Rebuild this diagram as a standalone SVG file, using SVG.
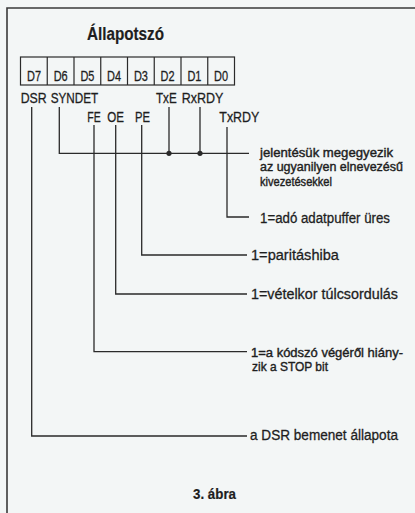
<svg xmlns="http://www.w3.org/2000/svg" width="415" height="513" viewBox="0 0 415 513">
<style>
.t{font-family:"Liberation Sans Narrow","Liberation Sans",Arial,sans-serif;font-size:15px;fill:#1e1e1e;stroke:#1e1e1e;stroke-width:0.3}
.m{font-size:12.8px;stroke-width:0.4}
.b{font-weight:bold}
.ln{fill:none;stroke:#2a2a2a;stroke-width:1.3}
.cell{fill:none;stroke:#2a2a2a;stroke-width:1.2}
.frame{fill:none;stroke:#3a3a3a;stroke-width:1.6}
</style>
<rect width="415" height="513" fill="#f3f6f6"/>
<path class="frame" d="M7,513 V8 H415"/>
<g id="title"><text class="t b" x="87" y="40" textLength="77" lengthAdjust="spacingAndGlyphs" style="font-size:19px;stroke-width:0.2">Állapotszó</text></g>
<g id="register">
<rect class="cell" x="20.5" y="57" width="214" height="28"/>
<path class="cell" d="M47.25,57V85M74,57V85M100.75,57V85M127.5,57V85M154.25,57V85M181,57V85M207.75,57V85"/>
<text class="t" x="27" y="80.5" textLength="14" lengthAdjust="spacingAndGlyphs" style="font-size:15.5px">D7</text>
<text class="t" x="53.7" y="80.5" textLength="14" lengthAdjust="spacingAndGlyphs" style="font-size:15.5px">D6</text>
<text class="t" x="80.4" y="80.5" textLength="14" lengthAdjust="spacingAndGlyphs" style="font-size:15.5px">D5</text>
<text class="t" x="107.1" y="80.5" textLength="14" lengthAdjust="spacingAndGlyphs" style="font-size:15.5px">D4</text>
<text class="t" x="133.9" y="80.5" textLength="14" lengthAdjust="spacingAndGlyphs" style="font-size:15.5px">D3</text>
<text class="t" x="160.6" y="80.5" textLength="14" lengthAdjust="spacingAndGlyphs" style="font-size:15.5px">D2</text>
<text class="t" x="187.4" y="80.5" textLength="14" lengthAdjust="spacingAndGlyphs" style="font-size:15.5px">D1</text>
<text class="t" x="214.1" y="80.5" textLength="14" lengthAdjust="spacingAndGlyphs" style="font-size:15.5px">D0</text>
</g>
<g id="bit-names">
<text class="t" x="20.7" y="103" textLength="26" lengthAdjust="spacingAndGlyphs">DSR</text>
<text class="t" x="50.7" y="103" textLength="47.6" lengthAdjust="spacingAndGlyphs">SYNDET</text>
<text class="t" x="87.3" y="122" textLength="13.4" lengthAdjust="spacingAndGlyphs">FE</text>
<text class="t" x="107.3" y="122" textLength="16.7" lengthAdjust="spacingAndGlyphs">OE</text>
<text class="t" x="135" y="122" textLength="15" lengthAdjust="spacingAndGlyphs">PE</text>
<text class="t" x="156" y="103" textLength="20.7" lengthAdjust="spacingAndGlyphs">TxE</text>
<text class="t" x="181.7" y="103" textLength="41.6" lengthAdjust="spacingAndGlyphs">RxRDY</text>
<text class="t" x="219.3" y="122" textLength="40" lengthAdjust="spacingAndGlyphs">TxRDY</text>
</g>
<g id="connectors">
<path class="ln" d="M31.7,107V436H247"/>
<path class="ln" d="M59.3,107V153.3H249"/>
<path class="ln" d="M94,125V351.7H247"/>
<path class="ln" d="M115.7,125V294H247"/>
<path class="ln" d="M141.7,125V255H247"/>
<path class="ln" d="M169,107V153.3"/>
<path class="ln" d="M200,107V153.3"/>
<path class="ln" d="M227,127V217H249"/>
<circle cx="169" cy="153.3" r="2.6" fill="#2a2a2a"/>
<circle cx="200" cy="153.3" r="2.6" fill="#2a2a2a"/>
</g>
<g id="desc-common">
<text class="t m" transform="translate(260,156.5) scale(0.85,1)" textLength="156.5" lengthAdjust="spacingAndGlyphs">jelentésük megegyezik</text>
<text class="t m" transform="translate(260,171) scale(0.85,1)" textLength="168.2" lengthAdjust="spacingAndGlyphs">az ugyanilyen elnevezésű</text>
<text class="t m" transform="translate(260,185.5) scale(0.85,1)" textLength="84.7" lengthAdjust="spacingAndGlyphs">kivezetésekkel</text>
</g>
<g id="desc-txrdy"><text class="t" transform="translate(260,222.5) scale(0.8,1)" textLength="162.5" lengthAdjust="spacingAndGlyphs">1=adó adatpuffer üres</text></g>
<g id="desc-pe"><text class="t" transform="translate(251,260) scale(0.8,1)" textLength="110" lengthAdjust="spacingAndGlyphs">1=paritáshiba</text></g>
<g id="desc-oe"><text class="t" transform="translate(251,299) scale(0.8,1)" textLength="183.75" lengthAdjust="spacingAndGlyphs">1=vételkor túlcsordulás</text></g>
<g id="desc-fe">
<text class="t m" transform="translate(251,356.5) scale(0.85,1)" textLength="178.8" lengthAdjust="spacingAndGlyphs">1=a kódszó végéről hiány-</text>
<text class="t m" transform="translate(252,371) scale(0.85,1)" textLength="89.4" lengthAdjust="spacingAndGlyphs">zik a STOP bit</text>
</g>
<g id="desc-dsr"><text class="t" transform="translate(250,440) scale(0.8,1)" textLength="185" lengthAdjust="spacingAndGlyphs">a DSR bemenet állapota</text></g>
<g id="caption"><text class="t b" x="193" y="499" textLength="43" lengthAdjust="spacingAndGlyphs" style="stroke-width:0.2">3. ábra</text></g>
</svg>
